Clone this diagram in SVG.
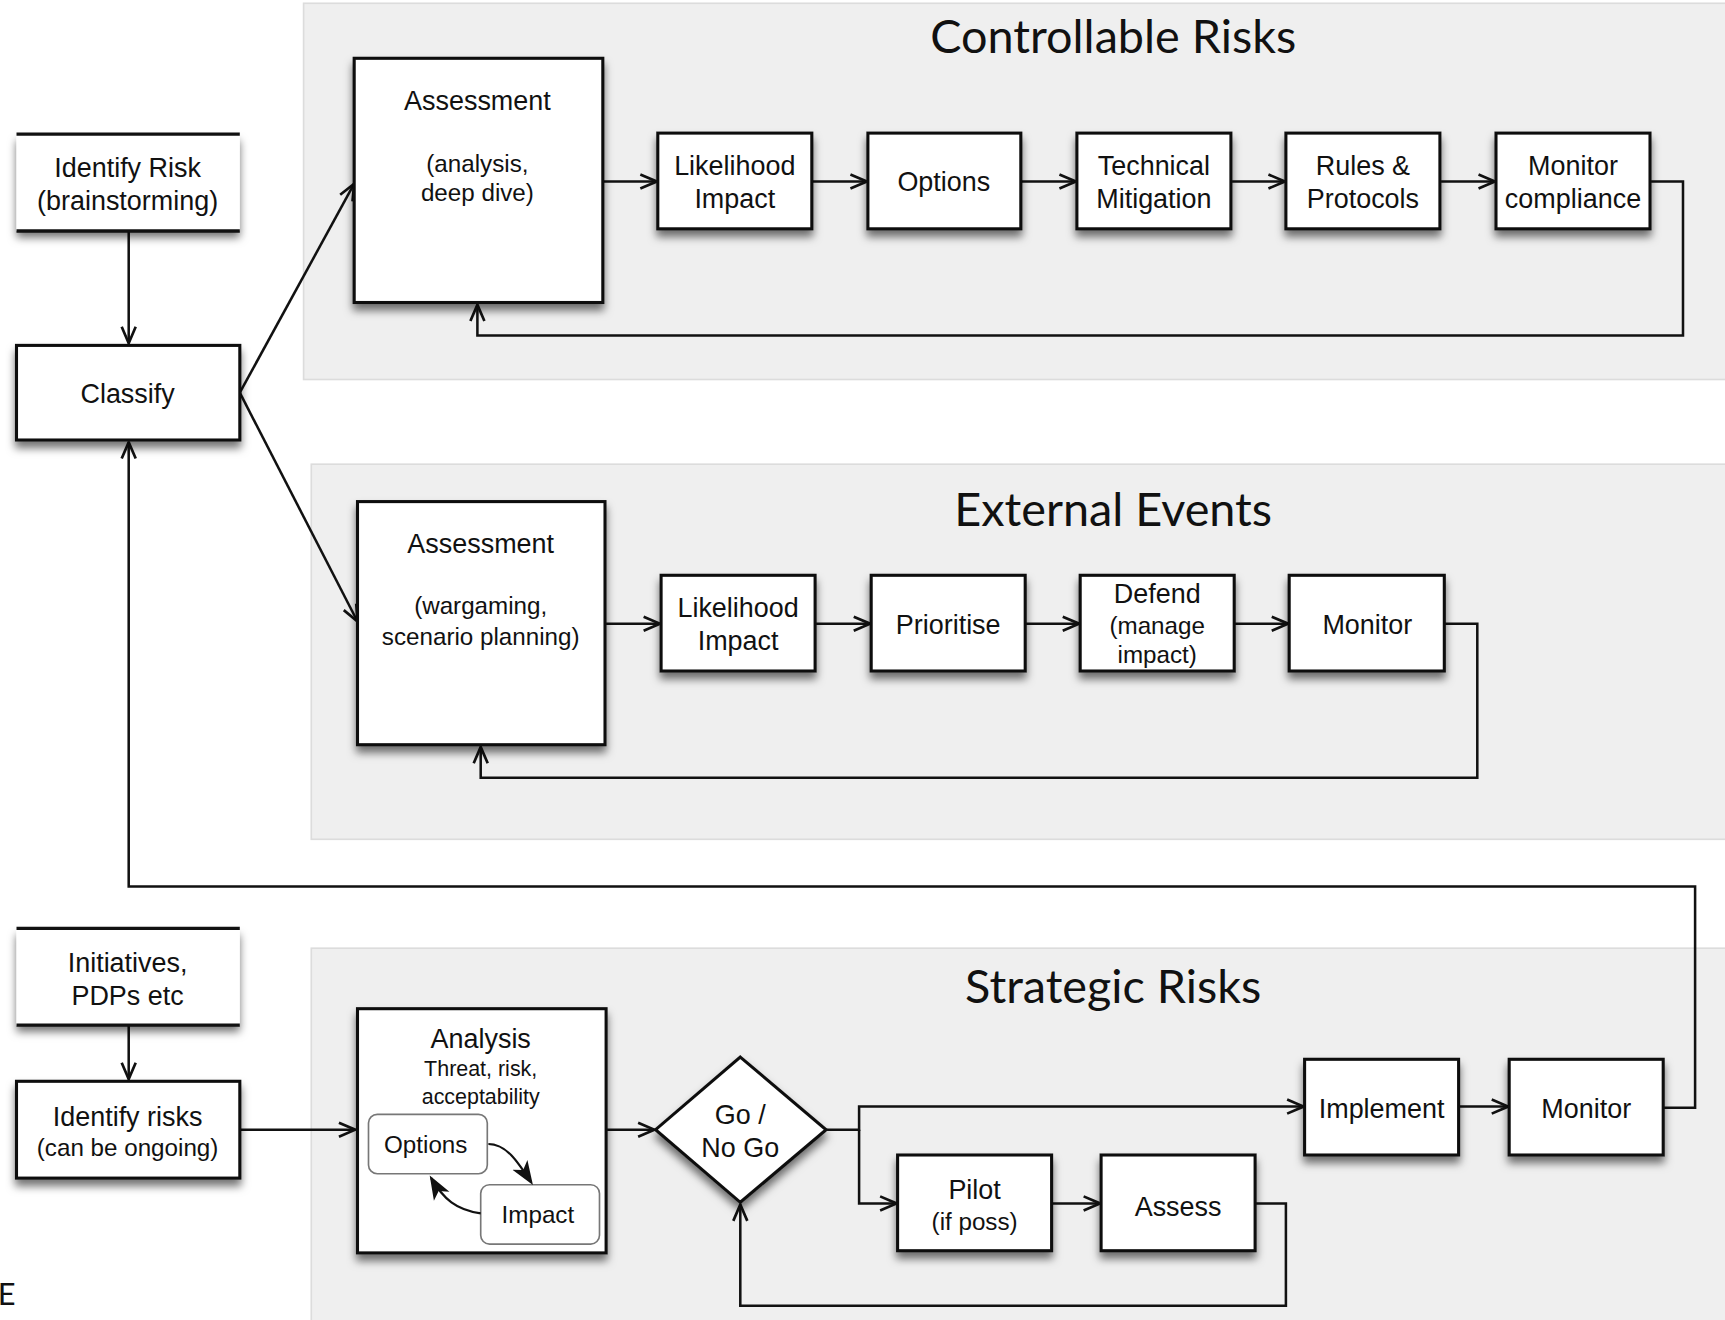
<svg xmlns="http://www.w3.org/2000/svg" width="1725" height="1320" viewBox="0 0 1725 1320">
<defs>
<filter id="sh" x="-20%" y="-20%" width="140%" height="150%">
<feDropShadow dx="0" dy="6" stdDeviation="4" flood-color="#000" flood-opacity="0.55"/>
</filter>
<marker id="ar" viewBox="0 0 16 14" refX="15" refY="7" markerWidth="17" markerHeight="15" markerUnits="userSpaceOnUse" orient="auto">
<path d="M1,1 L15,7 L1,13" fill="none" stroke="#111" stroke-width="2.3"/>
</marker>
<marker id="af" viewBox="0 0 16 14" refX="14" refY="7" markerWidth="22" markerHeight="19" markerUnits="userSpaceOnUse" orient="auto">
<path d="M0,1 L16,7 L0,13 L4,7 Z" fill="#111"/>
</marker>
<style>
.panel{fill:#efefef;stroke:#dcdcdc;stroke-width:1.5}
.box{fill:#fff;stroke:#111;stroke-width:2.8}
.bar{stroke:#111;stroke-width:3}
.rbox{fill:#fff;stroke:#777;stroke-width:1.5}
.t{font-family:"Liberation Sans",Arial,sans-serif;font-size:24.5px;fill:#111;text-anchor:middle}
.s{font-size:22px}
.xs{font-size:19.5px}
.title{font-family:Lato,"Open Sans","DejaVu Sans",sans-serif;font-size:42.5px;fill:#111;text-anchor:middle}
.c{fill:none;stroke:#111;stroke-width:2.3}
</style>
</defs>
<rect width="1725" height="1320" fill="#fff"/>
<g transform="scale(1.1)">
<g id="panels">
<rect class="panel" x="276" y="3" width="1300" height="342"/>
<rect class="panel" x="283" y="422" width="1300" height="341"/>
<rect class="panel" x="283" y="862" width="1300" height="350"/>
<text class="title" x="1012" y="48">Controllable Risks</text>
<text class="title" x="1012" y="478">External Events</text>
<text class="title" x="1012" y="912">Strategic Risks</text>
</g>
<g id="connectors">
<line class="c" x1="117" y1="210" x2="117" y2="312" marker-end="url(#ar)"/>
<line class="c" x1="218" y1="357" x2="322" y2="167" marker-end="url(#ar)"/>
<line class="c" x1="218" y1="357" x2="325" y2="565" marker-end="url(#ar)"/>
<line class="c" x1="548" y1="165" x2="597" y2="165" marker-end="url(#ar)"/>
<line class="c" x1="738" y1="165" x2="788" y2="165" marker-end="url(#ar)"/>
<line class="c" x1="928" y1="165" x2="978" y2="165" marker-end="url(#ar)"/>
<line class="c" x1="1119" y1="165" x2="1168" y2="165" marker-end="url(#ar)"/>
<line class="c" x1="1309" y1="165" x2="1359" y2="165" marker-end="url(#ar)"/>
<polyline class="c" points="1500,165 1530,165 1530,305 434,305 434,277" marker-end="url(#ar)"/>
<line class="c" x1="550" y1="567" x2="600" y2="567" marker-end="url(#ar)"/>
<line class="c" x1="741" y1="567" x2="791" y2="567" marker-end="url(#ar)"/>
<line class="c" x1="932" y1="567" x2="981" y2="567" marker-end="url(#ar)"/>
<line class="c" x1="1122" y1="567" x2="1171" y2="567" marker-end="url(#ar)"/>
<polyline class="c" points="1313,567 1343,567 1343,707 437,707 437,679" marker-end="url(#ar)"/>
<polyline class="c" points="1512,1007 1541,1007 1541,806 117,806 117,402" marker-end="url(#ar)"/>
<line class="c" x1="117" y1="932" x2="117" y2="981" marker-end="url(#ar)"/>
<line class="c" x1="218" y1="1027" x2="323" y2="1027" marker-end="url(#ar)"/>
<line class="c" x1="551" y1="1027" x2="595" y2="1027" marker-end="url(#ar)"/>
<polyline class="c" points="751,1027 781,1027 781,1006 1185,1006" marker-end="url(#ar)"/>
<polyline class="c" points="781,1027 781,1094 815,1094" marker-end="url(#ar)"/>
<line class="c" x1="1326" y1="1006" x2="1371" y2="1006" marker-end="url(#ar)"/>
<line class="c" x1="956" y1="1094" x2="1000" y2="1094" marker-end="url(#ar)"/>
<polyline class="c" points="1141,1094 1169,1094 1169,1187 673,1187 673,1095" marker-end="url(#ar)"/>
</g>
<g id="identify-risk">
<rect x="15" y="122" width="203" height="88" fill="#fff" filter="url(#sh)"/>
<line class="bar" x1="15" y1="122" x2="218" y2="122"/>
<line class="bar" x1="15" y1="210" x2="218" y2="210"/>
<text class="t" x="116" y="161">Identify Risk</text>
<text class="t" x="116" y="191">(brainstorming)</text>
</g>
<g id="classify">
<rect class="box" x="15" y="314" width="203" height="86" filter="url(#sh)"/>
<text class="t" x="116" y="366">Classify</text>
</g>
<g id="cr-assessment">
<rect class="box" x="322" y="53" width="226" height="222" filter="url(#sh)"/>
<text class="t" x="434" y="100">Assessment</text>
<text class="t s" x="434" y="156">(analysis,</text>
<text class="t s" x="434" y="183">deep dive)</text>
</g>
<g id="cr-likelihood">
<rect class="box" x="598" y="121" width="140" height="87" filter="url(#sh)"/>
<text class="t" x="668" y="159">Likelihood</text>
<text class="t" x="668" y="189">Impact</text>
</g>
<g id="cr-options">
<rect class="box" x="789" y="121" width="139" height="87" filter="url(#sh)"/>
<text class="t" x="858" y="174">Options</text>
</g>
<g id="cr-technical">
<rect class="box" x="979" y="121" width="140" height="87" filter="url(#sh)"/>
<text class="t" x="1049" y="159">Technical</text>
<text class="t" x="1049" y="189">Mitigation</text>
</g>
<g id="cr-rules">
<rect class="box" x="1169" y="121" width="140" height="87" filter="url(#sh)"/>
<text class="t" x="1239" y="159">Rules &amp;</text>
<text class="t" x="1239" y="189">Protocols</text>
</g>
<g id="cr-monitor">
<rect class="box" x="1360" y="121" width="140" height="87" filter="url(#sh)"/>
<text class="t" x="1430" y="159">Monitor</text>
<text class="t" x="1430" y="189">compliance</text>
</g>
<g id="ee-assessment">
<rect class="box" x="325" y="456" width="225" height="221" filter="url(#sh)"/>
<text class="t" x="437" y="503">Assessment</text>
<text class="t s" x="437" y="558">(wargaming,</text>
<text class="t s" x="437" y="586">scenario planning)</text>
</g>
<g id="ee-likelihood">
<rect class="box" x="601" y="523" width="140" height="87" filter="url(#sh)"/>
<text class="t" x="671" y="561">Likelihood</text>
<text class="t" x="671" y="591">Impact</text>
</g>
<g id="ee-prioritise">
<rect class="box" x="792" y="523" width="140" height="87" filter="url(#sh)"/>
<text class="t" x="862" y="576">Prioritise</text>
</g>
<g id="ee-defend">
<rect class="box" x="982" y="523" width="140" height="87" filter="url(#sh)"/>
<text class="t" x="1052" y="548">Defend</text>
<text class="t s" x="1052" y="576">(manage</text>
<text class="t s" x="1052" y="603">impact)</text>
</g>
<g id="ee-monitor">
<rect class="box" x="1172" y="523" width="141" height="87" filter="url(#sh)"/>
<text class="t" x="1243" y="576">Monitor</text>
</g>
<g id="initiatives">
<rect x="15" y="844" width="203" height="88" fill="#fff" filter="url(#sh)"/>
<line class="bar" x1="15" y1="844" x2="218" y2="844"/>
<line class="bar" x1="15" y1="932" x2="218" y2="932"/>
<text class="t" x="116" y="884">Initiatives,</text>
<text class="t" x="116" y="914">PDPs etc</text>
</g>
<g id="identify-risks">
<rect class="box" x="15" y="983" width="203" height="88" filter="url(#sh)"/>
<text class="t" x="116" y="1024">Identify risks</text>
<text class="t s" x="116" y="1051">(can be ongoing)</text>
</g>
<g id="sr-analysis">
<rect class="box" x="325" y="917" width="226" height="222" filter="url(#sh)"/>
<text class="t" x="437" y="953">Analysis</text>
<text class="t xs" x="437" y="978">Threat, risk,</text>
<text class="t xs" x="437" y="1004">acceptability</text>
<rect class="rbox" x="335" y="1013" width="108" height="54" rx="8"/>
<text class="t s" x="387" y="1048">Options</text>
<rect class="rbox" x="437" y="1077" width="108" height="54" rx="8"/>
<text class="t s" x="489" y="1112">Impact</text>
<path d="M444,1040 C460,1040 470,1055 483,1075" fill="none" stroke="#111" stroke-width="2" marker-end="url(#af)"/>
<path d="M437,1103 C415,1100 403,1090 392,1071" fill="none" stroke="#111" stroke-width="2" marker-end="url(#af)"/>
</g>
<g id="sr-decision">
<polygon points="673,961 751,1027 673,1093 596,1027" fill="#fff" stroke="#111" stroke-width="2.8" filter="url(#sh)"/>
<text class="t" x="673" y="1022">Go /</text>
<text class="t" x="673" y="1052">No Go</text>
</g>
<g id="sr-implement">
<rect class="box" x="1186" y="963" width="140" height="87" filter="url(#sh)"/>
<text class="t" x="1256" y="1016">Implement</text>
</g>
<g id="sr-monitor">
<rect class="box" x="1372" y="963" width="140" height="87" filter="url(#sh)"/>
<text class="t" x="1442" y="1016">Monitor</text>
</g>
<g id="sr-pilot">
<rect class="box" x="816" y="1050" width="140" height="87" filter="url(#sh)"/>
<text class="t" x="886" y="1090">Pilot</text>
<text class="t s" x="886" y="1118">(if poss)</text>
</g>
<g id="sr-assess">
<rect class="box" x="1001" y="1050" width="140" height="87" filter="url(#sh)"/>
<text class="t" x="1071" y="1105">Assess</text>
</g>
<text x="-2" y="1186" font-family="Lato,'Open Sans',sans-serif" font-size="28" fill="#111">E</text>
</g>
</svg>
